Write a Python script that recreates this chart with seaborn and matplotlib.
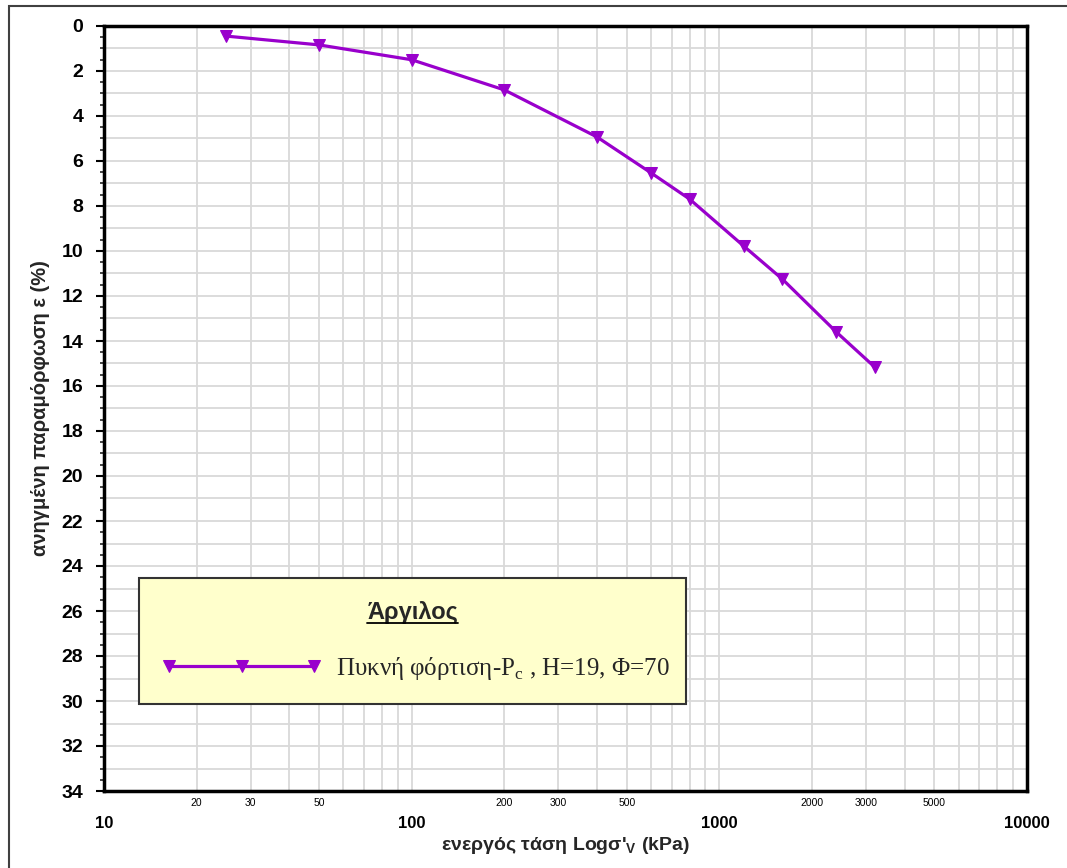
import numpy as np
import pandas as pd
import matplotlib
matplotlib.use("Agg")
import matplotlib.pyplot as plt
from matplotlib.patches import Rectangle
from matplotlib.lines import Line2D
import seaborn as sns

# ---- data ----
stress_kpa = [25, 50, 100, 200, 400, 600, 800, 1200, 1600, 2400, 3200]
strain_pct = [0.45, 0.84, 1.5, 2.84, 4.93, 6.53, 7.69, 9.78, 11.24, 13.6, 15.16]
series_label = r"Πυκνή φόρτιση-P$_\mathrm{c}$ , H=19, Φ=70"
legend_title = "Άργιλος"
x_label = r"ενεργός τάση Logσ'$_\mathsf{V}$ (kPa)"
y_label = "ανηγμένη παραμόρφωση ε (%)"
x_major_ticks = [10, 100, 1000, 10000]
x_minor_labeled = [20, 30, 50, 200, 300, 500, 2000, 3000, 5000]
y_major_ticks = list(range(0, 35, 2))

sns.set_style("white")
plt.rcParams["font.family"] = ["Liberation Sans", "DejaVu Sans"]
plt.rcParams["mathtext.fontset"] = "custom"
plt.rcParams["mathtext.rm"] = "Liberation Serif"
plt.rcParams["mathtext.sf"] = "Liberation Sans:bold"
plt.rcParams["mathtext.bf"] = "Liberation Sans:bold"

df = pd.DataFrame({"stress": stress_kpa, "strain": strain_pct})

W, H = 1067, 868
fig = plt.figure(figsize=(W / 100, H / 100), dpi=100)
ax = fig.add_axes([104 / W, 1 - 791 / H, (1027 - 104) / W, (791 - 26) / H])

color = "#9900CC"
sns.lineplot(data=df, x="stress", y="strain", ax=ax, sort=False, color=color,
             linewidth=2.3, marker="v", markersize=8, markeredgecolor=color,
             label=series_label, zorder=5)

ax.set_xscale("log")
ax.set_xlim(10, 10000)
ax.set_ylim(34, 0)

# x ticks
ax.set_xticks(x_major_ticks)
ax.set_xticklabels([str(v) for v in x_major_ticks], fontsize=12, fontweight="bold")
minor_pos = [m * d for d in [10, 100, 1000] for m in range(2, 10)]
ax.set_xticks(minor_pos, minor=True)
ax.set_xticklabels([str(v) if v in x_minor_labeled else "" for v in minor_pos],
                   minor=True, fontsize=7.5)
ax.tick_params(axis="x", which="major", direction="out", length=8, width=2,
               pad=10, colors="black")
ax.tick_params(axis="x", which="minor", direction="out", length=4, width=1.5,
               pad=1, colors="black")

# y ticks
ax.set_yticks(y_major_ticks)
ax.set_yticklabels([str(v) for v in y_major_ticks], fontsize=14, fontweight="bold")
ax.set_yticks([v / 2 for v in range(0, 69)], minor=True)
ax.tick_params(axis="y", which="major", direction="out", length=6, width=1.5,
               pad=9, colors="black", left=True)
ax.tick_params(axis="y", which="minor", direction="out", length=3, width=1.2,
               left=True)

ax.grid(True, which="major", color="#d9d9d9", linewidth=1.3)
ax.grid(True, which="minor", axis="x", color="#d9d9d9", linewidth=1.3)
for yv in range(1, 34, 2):
    ax.axhline(yv, color="#d9d9d9", linewidth=1.3, zorder=0)
ax.set_axisbelow(True)
for s in ax.spines.values():
    s.set_visible(True)
    s.set_color("black")
    s.set_linewidth(2.5)

ax.set_xlabel(x_label, fontsize=14, fontweight="bold", labelpad=3)
ax.set_ylabel(y_label, fontsize=14.5, fontweight="bold", labelpad=8)

# legend
x0 = (139 - 104) / 923
ytop = (791 - 578) / 765
wleg = (686 - 139) / 923
leg = ax.legend(loc="upper left", bbox_to_anchor=(x0, ytop - 0.2, wleg, 0.2),
                mode="expand", borderaxespad=0, numpoints=3, handlelength=6.4,
                handletextpad=0.6, borderpad=0.9, labelspacing=1.25,
                title=legend_title, fancybox=False, framealpha=1,
                facecolor="#FFFFCC", edgecolor="#333333",
                prop={"family": ["Liberation Serif", "DejaVu Serif"], "size": 18},
                title_fontproperties={"family": ["Liberation Sans", "DejaVu Sans"],
                                      "size": 17, "weight": "bold"})
leg.get_frame().set_linewidth(1.5)
leg.set_zorder(10)

# outer figure frame
fig.patches.append(Rectangle((9 / W, -0.05), 1.2, 1 - 6 / H + 0.05,
                             transform=fig.transFigure, fill=False,
                             edgecolor="#404040", linewidth=1.5))

# underline the legend title
fig.canvas.draw()
bb = leg.get_title().get_window_extent()
inv = fig.transFigure.inverted()
(ux0, uy0) = inv.transform((bb.x0, bb.y0 + 1))
(ux1, _) = inv.transform((bb.x1, bb.y0 + 1))
fig.lines.append(Line2D([ux0, ux1], [uy0, uy0], transform=fig.transFigure,
                        color="black", linewidth=1.3, zorder=20))

fig.savefig("out.png", dpi=100)
